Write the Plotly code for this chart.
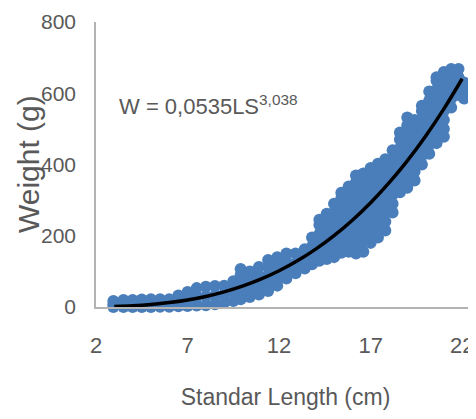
import plotly.graph_objects as go

# Observed points, grouped by standard-length column: (length, [weights])
columns = [
    (2.95, [0, 8, 17]),
    (3.5, [0, 10, 20]),
    (4.0, [0, 10, 20]),
    (4.5, [0, 10, 21]),
    (5.0, [0, 11, 22]),
    (5.5, [1, 12, 22]),
    (6.0, [1, 12, 22]),
    (6.5, [2, 18, 32]),
    (7.0, [3, 22, 42]),
    (7.5, [4, 28, 53]),
    (8.0, [5, 30, 57]),
    (8.5, [8, 33, 59]),
    (9.0, [12, 36, 60]),
    (9.5, [17, 45, 72]),
    (9.9, [22, 45, 70, 90, 107]),
    (10.4, [28, 52, 76, 100]),
    (10.9, [35, 60, 86, 112]),
    (11.4, [45, 68, 90, 112, 132]),
    (11.9, [60, 80, 100, 120, 140]),
    (12.4, [80, 104, 128, 150]),
    (12.9, [95, 122, 150]),
    (13.4, [108, 135, 162]),
    (13.8, [120, 145, 170, 195]),
    (14.2, [130, 155, 180, 205, 230, 245]),
    (14.6, [135, 160, 185, 210, 235, 262]),
    (15.0, [140, 165, 190, 215, 240, 265, 290]),
    (15.4, [152, 178, 204, 230, 256, 282, 305, 321]),
    (15.8, [155, 180, 205, 230, 255, 280, 305, 330, 338]),
    (16.2, [150, 175, 200, 225, 250, 275, 300, 325, 350, 369]),
    (16.6, [155, 180, 205, 230, 255, 280, 305, 330, 355, 375]),
    (17.0, [180, 205, 230, 255, 280, 305, 330, 355, 380, 390]),
    (17.4, [195, 220, 245, 270, 295, 320, 345, 370, 395, 402]),
    (17.8, [215, 240, 265, 290, 315, 340, 365, 390, 415]),
    (18.2, [265, 290, 315, 340, 365, 390, 415, 440]),
    (18.6, [322, 345, 370, 395, 420, 445, 470, 490]),
    (19.0, [335, 360, 385, 410, 435, 460, 485, 510, 532]),
    (19.4, [355, 380, 405, 430, 455, 480, 505, 525]),
    (19.8, [400, 425, 450, 475, 500, 525, 550, 565]),
    (20.2, [430, 455, 480, 505, 530, 555, 580, 605]),
    (20.6, [460, 485, 510, 535, 560, 585, 610, 635, 645]),
    (21.0, [478, 500, 525, 550, 575, 600, 625, 650, 660]),
    (21.4, [560, 585, 610, 635, 660, 668]),
    (21.8, [595, 620, 645, 668]),
    (22.1, [585, 610, 630]),
]

length_cm = [c[0] for c in columns for _ in c[1]]
weight_g = [w for c in columns for w in c[1]]

# Fitted power curve W = 0.0535 * LS^3.038 (values read at integer lengths)
fit_length = [3, 4, 5, 6, 7, 8, 9, 10, 11, 12, 13, 14, 15, 16, 17, 18, 19, 20, 21, 22]
fit_weight = [1.5, 3.6, 7.1, 12.4, 19.8, 29.6, 42.4, 58.4, 78.0, 101.6, 129.6,
              162.3, 200.1, 243.5, 292.7, 348.2, 410.4, 479.6, 556.2, 640.7]

x_ticks = [2, 7, 12, 17, 22]
y_ticks = [0, 200, 400, 600, 800]

FONT = "Liberation Sans, Arial, sans-serif"
GRAY = "#595959"
AXIS = "#b3b3b3"

fig = go.Figure()
fig.add_trace(go.Scatter(
    x=length_cm, y=weight_g, mode="markers",
    marker=dict(size=12, color="#4A7EBB", line=dict(width=0)),
    cliponaxis=False, showlegend=False, hoverinfo="skip",
))
fig.add_trace(go.Scatter(
    x=fit_length, y=fit_weight, mode="lines",
    line=dict(color="black", width=3.5, shape="spline"),
    cliponaxis=False, showlegend=False,
))

fig.add_annotation(
    x=3.14, y=567, xref="x", yref="y", xanchor="left", yanchor="middle",
    text="W = 0,0535LS<sup>3,038</sup>", showarrow=False,
    font=dict(family=FONT, size=22, color=GRAY),
)

# y-axis title
fig.add_annotation(
    x=-0.178, y=0.5, xref="paper", yref="paper", xanchor="center", yanchor="middle",
    text="Weight (g)", textangle=-90, showarrow=False,
    font=dict(family=FONT, size=30, color=GRAY),
)

fig.update_layout(
    width=468, height=411,
    margin=dict(l=88, r=1, t=14, b=112, autoexpand=False),
    paper_bgcolor="white", plot_bgcolor="white",
    xaxis=dict(
        range=[2, 22.7], tickvals=x_ticks, ticktext=[str(v) for v in x_ticks],
        showline=True, linecolor=AXIS, linewidth=1.5, showgrid=False, zeroline=False,
        ticks="", ticklabelstandoff=18, automargin=False,
        tickfont=dict(family=FONT, size=22, color=GRAY),
        title=dict(text="Standar Length (cm)", standoff=32,
                   font=dict(family=FONT, size=23, color=GRAY)),
    ),
    yaxis=dict(
        range=[0, 800], tickvals=y_ticks, ticktext=[str(v) for v in y_ticks],
        showline=True, linecolor=AXIS, linewidth=1.5, showgrid=False, zeroline=False,
        ticks="", ticklabelstandoff=14, automargin=False,
        tickfont=dict(family=FONT, size=21, color=GRAY),
    ),
)

fig.write_html("out.html")
